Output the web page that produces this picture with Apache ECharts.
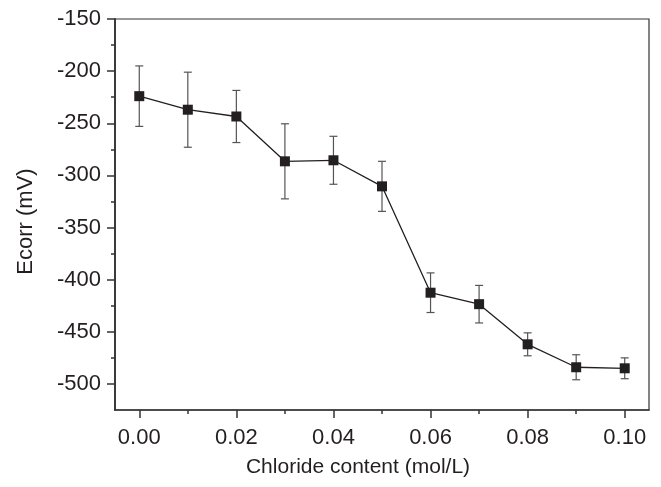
<!DOCTYPE html>
<html>
<head>
<meta charset="utf-8">
<script src="https://cdn.jsdelivr.net/npm/echarts@6/dist/echarts.min.js"></script>
<style>html,body{margin:0;padding:0;background:#fff}#c{width:661px;height:487px}</style>
</head>
<body>
<div id="c"></div>
<script>
// Data
var chloride = [0.00, 0.01, 0.02, 0.03, 0.04, 0.05, 0.06, 0.07, 0.08, 0.09, 0.10];
var ecorr = [-224, -237, -243.5, -286.5, -285.5, -310.5, -412.5, -423.5, -462, -484, -485];
var ecorrErr = [29, 36, 25, 36, 23, 24, 19, 18, 11, 12, 10];
var xMajorTicks = [0.00, 0.02, 0.04, 0.06, 0.08, 0.10];
var xMinorTicks = [0.01, 0.03, 0.05, 0.07, 0.09];
var yMajorTicks = [-500, -450, -400, -350, -300, -250, -200, -150];
var yMinorTicks = [-475, -425, -375, -325, -275, -225, -175];

var axisColor = '#333';
var textColor = '#231f20';
var font = 'Liberation Sans, Arial, sans-serif';

var chart = echarts.init(document.getElementById('c'), null, {renderer: 'canvas'});

var lineData = chloride.map(function (x, i) { return [x, ecorr[i]]; });
var errData = chloride.map(function (x, i) { return [x, ecorr[i] - ecorrErr[i], ecorr[i] + ecorrErr[i]]; });

var xBase = {type: 'value', min: -0.005, max: 0.105, splitLine: {show: false}, gridIndex: 0, position: 'bottom'};
var yBase = {type: 'value', min: -525, max: -150, splitLine: {show: false}, gridIndex: 0, position: 'left'};

chart.setOption({
  animation: false,
  backgroundColor: '#fff',
  grid: {left: 115, right: 12, top: 19, bottom: 77, show: true, borderColor: axisColor, borderWidth: 1.2, backgroundColor: 'transparent'},
  xAxis: [
    Object.assign({}, xBase, {
      name: 'Chloride content (mol/L)',
      nameLocation: 'middle',
      nameGap: 47,
      nameTextStyle: {fontFamily: font, fontSize: 21, color: textColor, padding: [0, 48, 0, 0]},
      axisLine: {show: true, onZero: false, lineStyle: {color: axisColor, width: 1.6}},
      axisTick: {show: true, inside: false, length: 8, customValues: xMajorTicks, lineStyle: {color: axisColor, width: 1.5}},
      axisLabel: {show: true, margin: 17, customValues: xMajorTicks, fontFamily: font, fontSize: 22, color: textColor,
        formatter: function (v) { return v.toFixed(2); }}
    }),
    Object.assign({}, xBase, {
      axisLine: {show: false, onZero: false},
      axisTick: {show: true, inside: false, length: 4, customValues: xMinorTicks, lineStyle: {color: axisColor, width: 1.5}},
      axisLabel: {show: false}
    })
  ],
  yAxis: [
    Object.assign({}, yBase, {
      name: 'Ecorr (mV)',
      nameLocation: 'middle',
      nameGap: 78,
      nameTextStyle: {fontFamily: font, fontSize: 22, color: textColor, padding: [0, 14, 0, 0]},
      axisLine: {show: true, onZero: false, lineStyle: {color: axisColor, width: 1.8}},
      axisTick: {show: true, inside: false, length: 8, customValues: yMajorTicks, lineStyle: {color: axisColor, width: 1.5}},
      axisLabel: {show: true, margin: 14, customValues: yMajorTicks, fontFamily: font, fontSize: 22, color: textColor,
        formatter: function (v) { return String(v); }}
    }),
    Object.assign({}, yBase, {
      axisLine: {show: false, onZero: false},
      axisTick: {show: true, inside: false, length: 4, customValues: yMinorTicks, lineStyle: {color: axisColor, width: 1.5}},
      axisLabel: {show: false}
    })
  ],
  series: [
    {
      type: 'custom',
      xAxisIndex: 0,
      yAxisIndex: 0,
      z: 2,
      data: errData,
      renderItem: function (params, api) {
        var x = api.value(0);
        var lo = api.coord([x, api.value(1)]);
        var hi = api.coord([x, api.value(2)]);
        var hw = 4;
        var style = {stroke: '#555', lineWidth: 1.2};
        return {
          type: 'group',
          children: [
            {type: 'line', shape: {x1: lo[0], y1: lo[1], x2: hi[0], y2: hi[1]}, style: style},
            {type: 'line', shape: {x1: lo[0] - hw, y1: lo[1], x2: lo[0] + hw, y2: lo[1]}, style: style},
            {type: 'line', shape: {x1: hi[0] - hw, y1: hi[1], x2: hi[0] + hw, y2: hi[1]}, style: style}
          ]
        };
      }
    },
    {
      type: 'line',
      xAxisIndex: 0,
      yAxisIndex: 0,
      z: 3,
      data: lineData,
      symbol: 'rect',
      symbolSize: 10,
      itemStyle: {color: '#231f20'},
      lineStyle: {color: '#231f20', width: 1.3}
    }
  ]
});
</script>
</body>
</html>
